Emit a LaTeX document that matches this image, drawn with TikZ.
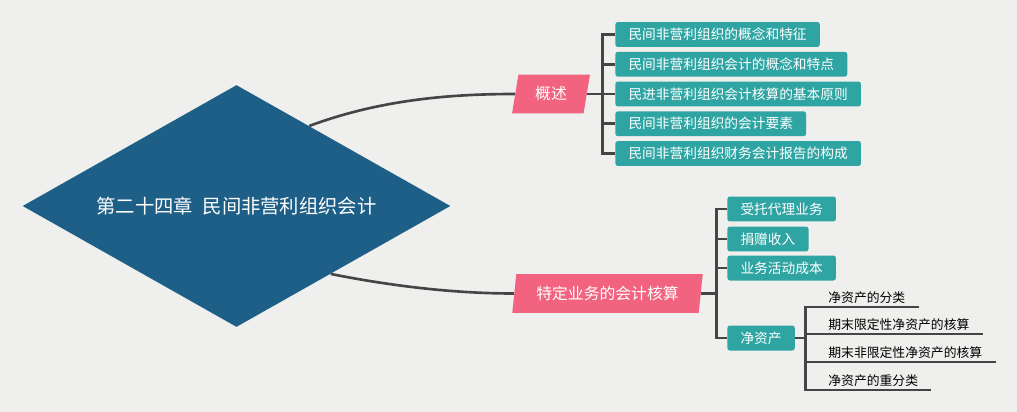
\documentclass[tikz,border=0pt]{standalone}
\usepackage{fontspec}
\newfontfamily\cjk{Noto Sans CJK SC}
\usepackage{tikz}
\usetikzlibrary{
  shapes.geometric, arrows.meta, positioning, calc, backgrounds
}
\definecolor{paper}{HTML}{EFEFED}
\definecolor{rootblue}{HTML}{1E5F87}
\definecolor{topicpink}{HTML}{F1637E}
\definecolor{leafteal}{HTML}{2FA5A3}
\definecolor{linegray}{HTML}{454545}
\tikzset{
  rootdiamond/.style={
    diamond, fill=rootblue, text=white, inner sep=0pt, aspect=1.77,
    minimum width=8.56cm, minimum height=4.84cm,
    font=\cjk\fontsize{11pt}{13pt}\selectfont
  },
  topicbox/.style={
    trapezium, trapezium left angle=78, trapezium right angle=102,
    trapezium stretches=true, fill=topicpink, text=white,
    inner sep=0pt, minimum height=0.78cm,
    font=\cjk\fontsize{9pt}{11pt}\selectfont
  },
  leafbox/.style={
    fill=leafteal, rounded corners=1.5pt, text=white, anchor=west,
    minimum height=0.5cm, inner xsep=7.5pt, inner ysep=0pt,
    font=\cjk\fontsize{7.8pt}{9pt}\selectfont
  },
  underleaf/.style={
    anchor=south west, inner xsep=0.26cm, inner ysep=1.6pt,
    font=\cjk\fontsize{7.3pt}{9pt}\selectfont
  },
  branch/.style={line width=1.7pt, draw=linegray},
  bigcurve/.style={line width=1.5pt, draw=linegray},
}

\begin{document}
\begin{tikzpicture}[x=0.02cm, y=-0.02cm]
  \useasboundingbox (0,0) rectangle (1017,412);

  % --- Root ---
  \node[rootdiamond] (cz) at (236.5,206) {第二十四章\hspace{0.5em}民间非营利组织会计};

  % --- Topics ---
  \node[topicbox, minimum width=1.56cm] (gaishu) at (551,94) {概述};
  \node[topicbox, minimum width=3.82cm] (tdyw) at (607.5,293.5) {特定业务的会计核算};

  % --- Overview leaves ---
  \foreach \t [count=\i] in {民间非营利组织的概念和特征, 民间非营利组织会计的概念和特点,
    民进非营利组织会计核算的基本原则, 民间非营利组织的会计要素,
    民间非营利组织财务会计报告的构成}
    \node[leafbox] (gs\i) at (615, {34.5+29.75*(\i-1)}) {\t};
  \foreach \i in {1,...,5}
    \draw[branch] (gaishu.east) -- ++(15,0) |- (gs\i.west);

  % --- Special business leaves ---
  \node[leafbox] (td1) at (727,209) {受托代理业务};
  \node[leafbox] (td2) at (727,239) {捐赠收入};
  \node[leafbox] (td3) at (727,268) {业务活动成本};
  \node[leafbox] (jzc) at (727,338) {净资产};
  \foreach \n in {td1,td2,td3,jzc}
    \draw[branch] (tdyw.east) -- ++(15,0) |- (\n.west);

  % --- Net assets ---
  \node[underleaf] (jz1) at (815,307) {净资产的分类};
  \node[underleaf] (jz2) at (815,334) {期末限定性净资产的核算};
  \node[underleaf] (jz3) at (815,362) {期末非限定性净资产的核算};
  \node[underleaf] (jz4) at (815,390) {净资产的重分类};
  \foreach \i in {1,...,4}
    \draw[branch] (jzc.east) -- ++(10,0) |- (jz\i.south east);

  % --- Paper and curves ---
  \begin{scope}[on background layer]
    \fill[paper] (0,0) rectangle (1017,412);
    \draw[bigcurve] ($(cz.north)!0.34!(cz.east)$)
      .. controls +(70,-26) and +(-66,0) .. (gaishu.west);
    \draw[bigcurve] ($(cz.south)!0.44!(cz.east)$)
      .. controls +(60,12) and +(-60,0) .. (tdyw.west);
  \end{scope}
\end{tikzpicture}
\end{document}
